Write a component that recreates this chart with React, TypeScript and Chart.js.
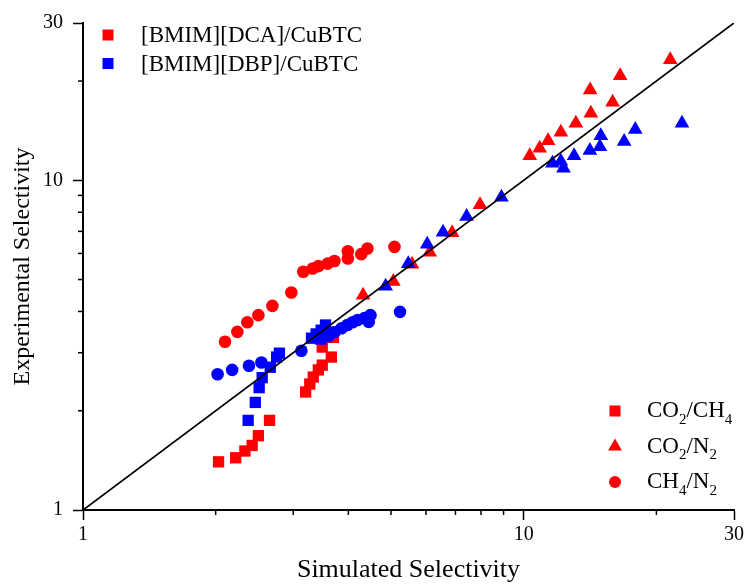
import React, { useEffect, useRef } from 'react';
import { Chart, registerables } from 'chart.js';

Chart.register(...registerables);

// ---- axis ticks ----
const tickValues = [1, 2, 3, 4, 5, 6, 7, 8, 9, 10, 20, 30];
const labeledTicks = [1, 10, 30];
const axisMin = 1;
const axisMax = 30;
const diagonal = [1, 30];

// ---- [BMIM][DCA]/CuBTC (red) ----
const dcaCO2CH4: [number, number][] = [
  [2.03, 1.4], [2.22, 1.44], [2.33, 1.51], [2.42, 1.57], [2.5, 1.68], [2.65, 1.87],
  [3.2, 2.28], [3.27, 2.41], [3.33, 2.53], [3.42, 2.66], [3.49, 2.75], [3.66, 2.91],
  [3.49, 3.12], [3.7, 3.34],
];
const dcaCO2N2: [number, number][] = [
  [4.32, 4.48], [5.06, 4.93], [5.58, 5.56], [6.12, 6.05], [6.88, 6.93], [7.96, 8.43],
  [10.32, 11.88], [10.87, 12.5], [11.36, 13.19], [12.14, 13.98], [13.13, 14.89],
  [14.2, 15.96], [14.15, 18.78], [15.91, 17.24], [16.55, 20.76], [21.5, 23.21],
];
const dcaCH4N2: [number, number][] = [
  [2.1, 3.24], [2.24, 3.47], [2.36, 3.71], [2.5, 3.9], [2.69, 4.16], [2.97, 4.57],
  [3.16, 5.28], [3.32, 5.4], [3.42, 5.49], [3.59, 5.59], [3.72, 5.69], [3.99, 6.09],
  [3.99, 5.79], [4.28, 5.97], [4.42, 6.21], [5.09, 6.28],
];

// ---- [BMIM][DBP]/CuBTC (blue) ----
const dbpCO2CH4: [number, number][] = [
  [2.37, 1.87], [2.46, 2.12], [2.51, 2.35], [2.55, 2.52], [2.66, 2.71], [2.75, 2.91],
  [2.79, 2.99], [3.3, 3.32], [3.38, 3.42], [3.47, 3.51], [3.55, 3.64], [3.46, 3.3],
  [3.64, 3.46],
];
const dbpCO2N2: [number, number][] = [
  [4.86, 4.77], [5.47, 5.58], [6.04, 6.4], [6.56, 6.96], [7.42, 7.76], [8.9, 8.88],
  [11.62, 11.26], [12.14, 11.42], [12.31, 10.88], [13.01, 11.88], [14.13, 12.31],
  [14.89, 12.65], [14.96, 13.66], [16.9, 13.12], [17.91, 14.25], [22.86, 14.89],
];
const dbpCH4N2: [number, number][] = [
  [2.02, 2.58], [2.18, 2.66], [2.38, 2.74], [2.54, 2.8], [3.13, 3.04], [3.61, 3.37],
  [3.72, 3.46], [3.86, 3.56], [3.98, 3.64], [4.09, 3.71], [4.2, 3.77], [4.35, 3.82],
  [4.49, 3.9], [4.45, 3.72], [5.24, 3.99],
];

const materialNames = ['[BMIM][DCA]/CuBTC', '[BMIM][DBP]/CuBTC'];
const materialColors = ['#ff0000', '#0000ff'];
type Part = { t: string; sub?: boolean };
const gasPairLabels: Part[][] = [
  [{ t: 'CO' }, { t: '2', sub: true }, { t: '/CH' }, { t: '4', sub: true }],
  [{ t: 'CO' }, { t: '2', sub: true }, { t: '/N' }, { t: '2', sub: true }],
  [{ t: 'CH' }, { t: '4', sub: true }, { t: '/N' }, { t: '2', sub: true }],
];
const gasPairShapes = ['rect', 'triangle', 'circle'];

const FONT = '"Liberation Serif", "Times New Roman", serif';

const toPts = (a: [number, number][]) => a.map(([x, y]) => ({ x, y }));

function drawMarker(ctx: CanvasRenderingContext2D, shape: string, x: number, y: number, color: string) {
  ctx.fillStyle = color;
  ctx.beginPath();
  if (shape === 'rect') {
    ctx.rect(x - 5.5, y - 5.5, 11, 11);
  } else if (shape === 'triangle') {
    const r = 8;
    ctx.moveTo(x, y - r);
    ctx.lineTo(x + r * 0.866, y + r / 2);
    ctx.lineTo(x - r * 0.866, y + r / 2);
    ctx.closePath();
  } else {
    ctx.arc(x, y, 6, 0, Math.PI * 2);
  }
  ctx.fill();
}

const minorTicksPlugin = {
  id: 'minorTicks',
  afterDraw(chart: any) {
    const ctx = chart.ctx as CanvasRenderingContext2D;
    const xs = chart.scales.x;
    const ys = chart.scales.y;
    ctx.save();
    ctx.strokeStyle = '#000';
    ctx.lineWidth = 1.5;
    for (const v of tickValues) {
      if (labeledTicks.includes(v)) continue;
      const px = xs.getPixelForValue(v);
      ctx.beginPath();
      ctx.moveTo(px, xs.top);
      ctx.lineTo(px, xs.top + 5);
      ctx.stroke();
      const py = ys.getPixelForValue(v);
      ctx.beginPath();
      ctx.moveTo(ys.right, py);
      ctx.lineTo(ys.right - 5, py);
      ctx.stroke();
    }
    ctx.restore();
  },
};

const legendsPlugin = {
  id: 'twoLegends',
  afterDraw(chart: any) {
    const ctx = chart.ctx as CanvasRenderingContext2D;
    const a = chart.chartArea;
    ctx.save();
    ctx.textBaseline = 'middle';
    ctx.textAlign = 'left';
    // material legend (top-left)
    materialNames.forEach((name, i) => {
      const y = a.top + 12 + i * 28.5;
      drawMarker(ctx, 'rect', a.left + 25, y, materialColors[i]);
      ctx.fillStyle = '#000';
      ctx.font = `23px ${FONT}`;
      ctx.fillText(name, a.left + 58, y + 1);
    });
    // gas pair legend (bottom-right)
    gasPairLabels.forEach((parts, i) => {
      const y = a.bottom - 99 + i * 35.5;
      drawMarker(ctx, gasPairShapes[i], a.right - 119, y, materialColors[0]);
      let cx = a.right - 87;
      ctx.fillStyle = '#000';
      for (const p of parts) {
        ctx.font = p.sub ? `15px ${FONT}` : `23px ${FONT}`;
        ctx.fillText(p.t, cx, p.sub ? y + 9 : y);
        cx += ctx.measureText(p.t).width;
      }
    });
    ctx.restore();
  },
};

export default function App() {
  const ref = useRef<HTMLCanvasElement | null>(null);

  useEffect(() => {
    document.body.style.margin = '0';
    if (!ref.current) return;

    const scatter = (label: string, pts: [number, number][], shape: string, color: string, radius: number) => ({
      type: 'scatter' as const,
      label,
      data: toPts(pts),
      pointStyle: shape,
      pointRadius: radius,
      pointHoverRadius: radius,
      pointBackgroundColor: color,
      pointBorderColor: color,
      pointBorderWidth: 0,
      showLine: false,
      order: 1,
    });

    const axisCommon = (title: string, titleSize: number, titlePad: any) => ({
      type: 'logarithmic' as const,
      min: axisMin,
      max: axisMax,
      afterBuildTicks: (scale: any) => {
        scale.ticks = tickValues.map((v) => ({ value: v, major: labeledTicks.includes(v) }));
      },
      ticks: {
        autoSkip: false,
        maxRotation: 0,
        color: '#000',
        font: { family: FONT, size: 20 },
        callback: (v: any) => (labeledTicks.includes(Number(v)) ? String(v) : ''),
      },
      grid: {
        display: true,
        drawOnChartArea: false,
        drawTicks: true,
        tickLength: 10,
        tickWidth: 1.5,
        tickColor: (c: any) => (c.tick && labeledTicks.includes(c.tick.value) ? '#000' : 'rgba(0,0,0,0)'),
      },
      border: { display: true, color: '#000', width: 2 },
      title: {
        display: true,
        text: title,
        color: '#000',
        font: { family: FONT, size: titleSize, weight: 'normal' as const },
        padding: titlePad,
      },
    });

    const chart = new Chart(ref.current, {
      type: 'scatter',
      data: {
        datasets: [
          {
            type: 'line',
            label: 'y = x',
            data: diagonal.map((v) => ({ x: v, y: v })),
            borderColor: '#000',
            borderWidth: 1.8,
            pointRadius: 0,
            fill: false,
            order: 0,
          } as any,
          scatter('DBP CO2/CH4', dbpCO2CH4, 'rect', materialColors[1], 8),
          scatter('DBP CO2/N2', dbpCO2N2, 'triangle', materialColors[1], 8.5),
          scatter('DBP CH4/N2', dbpCH4N2, 'circle', materialColors[1], 6.3),
          scatter('DCA CO2/CH4', dcaCO2CH4, 'rect', materialColors[0], 8),
          scatter('DCA CO2/N2', dcaCO2N2, 'triangle', materialColors[0], 8.5),
          scatter('DCA CH4/N2', dcaCH4N2, 'circle', materialColors[0], 6.3),
        ],
      },
      options: {
        animation: false,
        responsive: true,
        maintainAspectRatio: false,
        layout: { padding: { top: 23, right: 12, left: 0, bottom: 0 } },
        plugins: {
          legend: { display: false },
          tooltip: { enabled: false },
        },
        scales: {
          x: {
            ...axisCommon('Simulated Selectivity', 26, { top: 0, bottom: -2 }),
            position: 'bottom',
            afterFit: (s: any) => {
              s.height = 74;
            },
          } as any,
          y: {
            ...axisCommon('Experimental Selectivity', 24, { top: 8, bottom: 0 }),
            position: 'left',
            ticks: {
              autoSkip: false,
              color: '#000',
              padding: 10,
              font: { family: FONT, size: 20 },
              callback: (v: any) => (labeledTicks.includes(Number(v)) ? String(v) : ''),
            },
            afterFit: (s: any) => {
              s.width = 83;
            },
          } as any,
        },
      },
      plugins: [minorTicksPlugin, legendsPlugin],
    });

    return () => chart.destroy();
  }, []);

  return (
    <div style={{ position: 'absolute', left: 0, top: 0, width: 747, height: 584 }}>
      <canvas ref={ref} />
    </div>
  );
}
